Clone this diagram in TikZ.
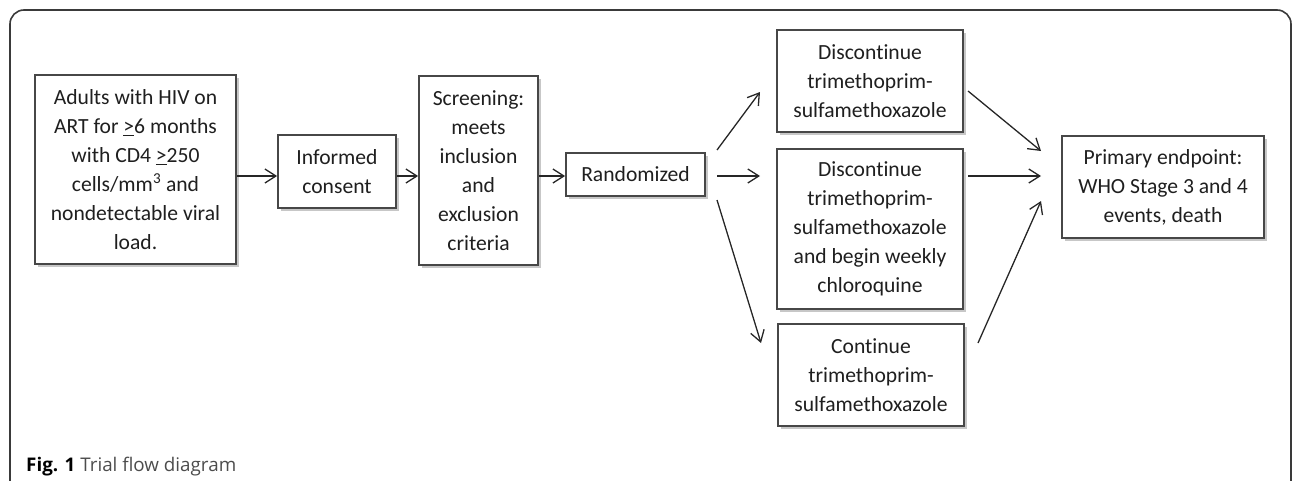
\documentclass[tikz,border=0pt]{standalone}
\usepackage{fontspec}
\setmainfont[Ligatures={NoCommon}]{Carlito}
\newfontfamily\capfont{Open Sans}
\usetikzlibrary{arrows.meta,shadows}

\definecolor{boxgray}{HTML}{474747}
\definecolor{framegray}{HTML}{3A3A3A}

\tikzset{
  box/.style={draw=boxgray, line width=1.8pt, fill=white, align=center,
    inner sep=0pt, text=black!88,
    font=\fontsize{21.6}{29}\selectfont,
    drop shadow={shadow xshift=2.5pt, shadow yshift=-3pt, opacity=0.22, fill=black}},
  arr/.style={->, line width=1.3pt, draw=black!85},
}

\begin{document}
\begin{tikzpicture}[x=1pt, y=-1pt, >={Straight Barb[length=11pt,width=14pt]}]
            \useasboundingbox (0,0) rectangle (1292,480);
            % Frame
            \draw[framegray, line width=1.6pt, rounded corners=14pt] (10,500) -- (10,10) -- (1291,10) -- (1291,500);

            % Steps
            \node[box, minimum width=201pt, minimum height=189pt] (adults) at (135.5,169.5)
                {Adults with HIV on\\ ART for \underline{>}6 months\\ with CD4 \underline{>}250\\ cells/mm\textsuperscript{3} and\\ nondetectable viral\\ load.};
            \node[box, minimum width=118pt, minimum height=73pt] (consent) at (337,171.5) {Informed\\ consent};
            \node[box, minimum width=119pt, minimum height=189pt] (screen) at (478.5,170.5)
                {Screening:\\ meets\\ inclusion\\ and\\ exclusion\\ criteria};
            \node[box, minimum width=139pt, minimum height=43pt] (rand) at (635.5,174.5) {Randomized};

            % Arms
            \node[box, minimum width=186pt, minimum height=102pt] (disc) at (870,81)
                {Discontinue\\ trimethoprim-\\ sulfamethoxazole};
            \node[box, minimum width=186pt, minimum height=160pt] (discchq) at (870,229)
                {Discontinue\\ trimethoprim-\\ sulfamethoxazole\\ and begin weekly\\ chloroquine};
            \node[box, minimum width=186pt, minimum height=102pt] (cont) at (871,375)
                {Continue\\ trimethoprim-\\ sulfamethoxazole};

            % Endpoint
            \node[box, minimum width=202pt, minimum height=102pt] (endpt) at (1163,187)
                {Primary endpoint:\\ WHO Stage 3 and 4\\ events, death};

            % Caption
            \node[anchor=base west, inner sep=0pt, font=\capfont\fontsize{18.8}{22}\selectfont, text=black!70] (cap) at (26,471)
                {\textbf{\color{black}Fig. 1} Trial flow diagram};

            % Arrow ends
            \coordinate (mid) at (0,176);
            \coordinate (r1s) at (717,150);
            \coordinate (r1e) at (760,92);
            \coordinate (r2s) at (717,176);
            \coordinate (r2e) at (760,176);
            \coordinate (r3s) at (717,200);
            \coordinate (r3e) at (761,343);
            \coordinate (e1s) at (968,91);
            \coordinate (e1e) at (1041,151);
            \coordinate (e2s) at (968,176);
            \coordinate (e2e) at (1041,176);
            \coordinate (e3s) at (978,343);
            \coordinate (e3e) at (1041,201);

            % Flow
            \draw[arr] (adults.east |- mid) -- (consent.west |- mid);
            \draw[arr] (consent.east |- mid) -- (screen.west |- mid);
            \draw[arr] (screen.east |- mid) -- (rand.west |- mid);
            \draw[arr] (r1s) -- (r1e);
            \draw[arr] (r2s) -- (r2e);
            \draw[arr] (r3s) -- (r3e);
            \draw[arr] (e1s) -- (e1e);
            \draw[arr] (e2s) -- (e2e);
            \draw[arr] (e3s) -- (e3e);
\end{tikzpicture}
\end{document}
